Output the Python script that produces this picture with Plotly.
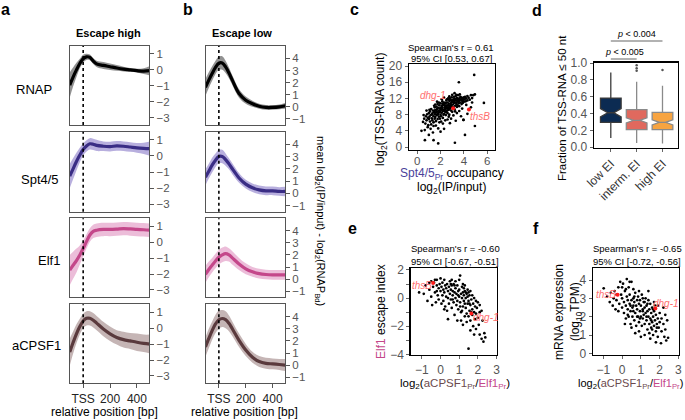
import plotly.graph_objects as go

W, H = 685, 420
FONT = "Liberation Sans, Arial, Helvetica, sans-serif"

# ---------------- data: panels a / b (meta-profiles) ----------------
positions = [-100, -75, -50, -25, 0, 25, 50, 75, 100, 150, 200, 250, 300, 350, 400, 450, 500]

a_rnap_mean = [-0.95, -0.45, 0.0, 0.4, 0.7, 0.82, 0.78, 0.55, 0.38, 0.28, 0.2, 0.12, 0.05, 0.0, -0.05, -0.08, -0.05]
a_rnap_hw = [0.8, 0.6, 0.45, 0.3, 0.25, 0.2, 0.18, 0.18, 0.2, 0.22, 0.2, 0.18, 0.15, 0.12, 0.12, 0.18, 0.3]
a_spt_mean = [-1.25, -0.8, -0.35, 0.05, 0.4, 0.62, 0.75, 0.72, 0.65, 0.6, 0.58, 0.62, 0.6, 0.55, 0.5, 0.47, 0.45]
a_spt_hw = [0.75, 0.65, 0.55, 0.45, 0.38, 0.35, 0.35, 0.35, 0.35, 0.3, 0.3, 0.3, 0.3, 0.3, 0.3, 0.35, 0.45]
a_elf_mean = [-1.75, -1.45, -1.15, -0.8, -0.4, 0.05, 0.45, 0.68, 0.75, 0.8, 0.8, 0.82, 0.85, 0.83, 0.8, 0.78, 0.75]
a_elf_hw = [0.95, 0.85, 0.75, 0.6, 0.5, 0.45, 0.42, 0.42, 0.42, 0.42, 0.42, 0.42, 0.42, 0.42, 0.42, 0.42, 0.42]
a_cpsf_mean = [-1.5, -0.9, -0.35, 0.1, 0.45, 0.62, 0.62, 0.5, 0.32, -0.05, -0.35, -0.58, -0.72, -0.8, -0.88, -0.95, -1.0]
a_cpsf_hw = [0.85, 0.7, 0.6, 0.5, 0.45, 0.45, 0.45, 0.45, 0.45, 0.45, 0.45, 0.45, 0.5, 0.5, 0.55, 0.55, 0.6]

b_rnap_mean = [1.6, 2.2, 2.75, 3.25, 3.6, 3.62, 3.3, 2.8, 2.2, 1.1, 0.55, 0.25, 0.05, -0.05, -0.05, 0.0, 0.1]
b_rnap_hw = [0.7, 0.65, 0.6, 0.55, 0.55, 0.55, 0.5, 0.45, 0.4, 0.35, 0.3, 0.25, 0.2, 0.2, 0.2, 0.2, 0.25]
b_spt_mean = [1.3, 1.8, 2.3, 2.7, 3.0, 3.0, 2.75, 2.4, 2.0, 1.25, 0.75, 0.45, 0.28, 0.2, 0.2, 0.15, 0.15]
b_spt_hw = [0.65, 0.6, 0.6, 0.55, 0.55, 0.55, 0.5, 0.45, 0.45, 0.4, 0.35, 0.35, 0.35, 0.35, 0.35, 0.35, 0.4]
b_elf_mean = [0.4, 0.8, 1.15, 1.5, 1.8, 2.0, 2.1, 2.0, 1.75, 1.25, 0.85, 0.6, 0.45, 0.38, 0.35, 0.35, 0.35]
b_elf_hw = [0.7, 0.65, 0.6, 0.6, 0.6, 0.6, 0.6, 0.55, 0.55, 0.5, 0.45, 0.4, 0.4, 0.4, 0.4, 0.4, 0.4]
b_cpsf_mean = [1.5, 2.2, 2.85, 3.4, 3.75, 3.85, 3.75, 3.45, 3.0, 2.05, 1.25, 0.65, 0.3, 0.15, 0.1, 0.05, 0.0]
b_cpsf_hw = [0.8, 0.8, 0.75, 0.75, 0.75, 0.7, 0.7, 0.65, 0.6, 0.55, 0.5, 0.45, 0.45, 0.45, 0.45, 0.45, 0.5]

factors = ["RNAP", "Spt4/5", "Elf1", "aCPSF1"]
a_ticks = [-3, -2, -1, 0, 1]
b_ticks = [-1, 0, 1, 2, 3, 4]
x_ticks = [0, 200, 400]
x_ticklabels = ["TSS", "200", "400"]

# ---------------- data: panel c ----------------
c_x = [0.5, 0.6, 0.7, 0.75, 0.8, 0.85, 0.9, 0.95, 1.0, 1.0, 0.65, 0.9, 0.55, 0.8,
       1.05, 1.1, 1.1, 1.15, 1.2, 1.2, 1.25, 1.3, 1.3, 1.35, 1.4, 1.4, 1.45, 1.5, 1.5, 1.15, 1.35, 1.45, 1.25, 1.05, 1.4, 1.5,
       1.55, 1.55, 1.6, 1.6, 1.65, 1.65, 1.7, 1.7, 1.75, 1.75, 1.8, 1.8, 1.85, 1.85, 1.9, 1.9, 1.95, 1.95, 2.0, 2.0, 1.6, 1.8, 1.9, 1.7, 1.55, 1.65, 1.85, 1.75, 1.95,
       2.05, 2.05, 2.1, 2.1, 2.15, 2.15, 2.2, 2.2, 2.25, 2.25, 2.3, 2.3, 2.35, 2.35, 2.4, 2.4, 2.45, 2.45, 2.5, 2.5, 2.05, 2.2, 2.3, 2.4, 2.1, 2.3, 2.15, 2.25, 2.35, 2.45, 2.0, 2.2, 2.4, 2.5, 2.1,
       2.55, 2.55, 2.6, 2.6, 2.65, 2.65, 2.7, 2.7, 2.75, 2.75, 2.8, 2.8, 2.85, 2.85, 2.9, 2.9, 2.95, 2.95, 3.0, 3.0, 2.6, 2.7, 2.8, 2.9, 2.55, 2.75, 2.65, 2.85, 2.6, 2.7, 2.9, 2.8,
       3.05, 3.05, 3.1, 3.1, 3.15, 3.15, 3.2, 3.2, 3.25, 3.25, 3.3, 3.3, 3.35, 3.35, 3.4, 3.4, 3.45, 3.45, 3.5, 3.5, 3.1, 3.3, 3.2, 3.4, 3.0, 3.25, 3.35, 3.15, 3.0,
       3.55, 3.55, 3.6, 3.6, 3.65, 3.7, 3.7, 3.75, 3.8, 3.8, 3.85, 3.9, 3.9, 3.95, 4.0, 4.0, 3.6, 3.75, 3.85, 3.57, 3.65, 3.95,
       4.05, 4.1, 4.15, 4.2, 4.3, 4.3, 4.4, 4.5, 4.6, 4.7, 4.8, 4.94, 4.88, 5.71, 4.94, 4.09, 3.97, 4.3, 4.7, 4.2, 4.6,
       0.66, 1.4, 1.8, 0.37, 3.23, 1.0, 2.0]
c_y = [6.2, 7.0, 5.8, 7.6, 6.6, 8.1, 7.2, 5.4, 6.9, 8.4, 4.2, 4.9, 7.9, 9.0,
       7.5, 6.3, 8.8, 7.9, 5.6, 9.4, 7.1, 8.3, 6.6, 9.0, 7.6, 5.2, 8.6, 7.0, 9.8, 4.5, 3.6, 10.2, 8.0, 9.2, 6.1, 8.1,
       9.1, 7.4, 8.5, 6.4, 10.0, 7.9, 9.4, 8.7, 6.9, 10.6, 8.2, 9.7, 7.5, 9.0, 10.3, 8.6, 7.0, 9.5, 8.0, 10.8, 5.3, 4.6, 6.1, 11.2, 10.5, 8.9, 11.0, 8.0, 8.8,
       9.2, 7.6, 10.0, 8.5, 9.6, 11.3, 8.9, 7.2, 10.4, 9.1, 8.2, 11.0, 9.8, 10.6, 8.7, 9.4, 10.9, 7.9, 9.9, 11.5, 6.3, 5.8, 4.5, 6.6, 11.8, 12.2, 10.3, 8.0, 9.0, 9.6, 9.6, 10.7, 10.2, 8.6, 9.3,
       10.3, 9.0, 11.0, 8.4, 9.7, 12.0, 10.6, 9.2, 11.4, 8.0, 10.1, 9.5, 11.7, 10.8, 9.0, 10.4, 11.1, 12.3, 10.0, 8.7, 6.8, 7.5, 5.9, 7.0, 11.8, 12.5, 10.2, 9.8, 9.5, 11.9, 11.5, 12.0,
       11.2, 10.5, 11.8, 9.8, 10.9, 12.4, 11.4, 9.3, 10.2, 11.9, 11.0, 12.6, 10.6, 11.5, 9.9, 12.1, 11.2, 10.3, 11.7, 12.8, 7.8, 6.5, 13.3, 8.4, 12.9, 8.8, 12.9, 11.6, 11.4,
       11.3, 10.8, 12.0, 10.1, 11.6, 12.4, 11.0, 11.8, 10.6, 12.2, 11.4, 12.0, 10.9, 11.7, 12.3, 11.2, 8.9, 7.6, 9.5, 16.0, 13.0, 6.7,
       11.8, 12.4, 11.3, 12.0, 12.6, 11.5, 12.2, 11.7, 12.8, 12.1, 12.8, 13.0, 17.8, 10.9, 5.2, 3.0, 6.7, 8.2, 11.0, 10.4, 9.8,
       1.7, 1.7, 0.9, 4.0, 1.06, 3.0, 3.8]
c_hl_x = [3.08, 4.43]
c_hl_y = [9.55, 9.3]
c_yticks = [0, 4, 8, 12, 16, 20]
c_xticks = [0, 2, 4, 6]

# ---------------- data: panel d (box statistics) ----------------
d_groups = ["low EI", "interm. EI", "high EI"]
d_q1 = [0.296, 0.21, 0.21]
d_median = [0.41, 0.32, 0.296]
d_q3 = [0.585, 0.447, 0.415]
d_lower = [0.11, 0.05, 0.044]
d_upper = [0.89, 0.78, 0.73]
d_notch = [0.05, 0.03, 0.03]
d_fill = ["#0c2b52", "#e0695e", "#f7a441"]
d_edge = ["#3a3a3a", "#8a8a8a", "#8a8a8a"]
d_out_x = ["interm. EI", "interm. EI", "interm. EI", "high EI"]
d_out_y = [0.91, 0.94, 0.975, 0.917]
d_yticks = [0.0, 0.2, 0.4, 0.6, 0.8, 1.0]

# ---------------- data: panel e ----------------
e_x = [-1.15, -0.9, -0.8, -0.7, -0.6, -0.5, -0.5, -0.45, -0.4, -0.35, -0.3, -0.25, -0.2, -0.2, -0.15, -0.1, -0.1, -0.05, 0.0, 0.0,
       0.05, 0.05, 0.1, 0.1, 0.15, 0.15, 0.2, 0.2, 0.25, 0.25, 0.3, 0.3, 0.35, 0.35, 0.4, 0.4, 0.45, 0.45, 0.5, 0.5,
       0.55, 0.55, 0.6, 0.6, 0.65, 0.65, 0.7, 0.7, 0.75, 0.75, 0.8, 0.8, 0.85, 0.85, 0.9, 0.9, 0.95, 0.95, 1.0, 1.0,
       1.05, 1.05, 1.1, 1.1, 1.15, 1.15, 1.2, 1.2, 1.25, 1.25, 1.3, 1.3, 1.35, 1.35, 1.4, 1.4, 1.45, 1.45, 1.5, 1.5, 1.5,
       1.55, 1.55, 1.6, 1.6, 1.65, 1.7, 1.7, 1.75, 1.75, 1.8, 1.8, 1.85, 1.85, 1.9, 1.9, 1.95, 2.0, 2.0, 2.05, 2.1, 2.1,
       2.2, 2.25, 2.3, 2.35, 2.4, 2.2, 1.2, 0.6, 1.0, 1.3, 0.4, 0.9, 1.1, 1.2, 1.4, 1.6, 1.8, 0.2, -0.2, 0.55, 0.8,
       1.45, 1.6, 1.7, 1.9, 2.1, -0.6, -0.3, 0.75, 1.3, 1.35, 1.25, 1.15, 0.95, 0.65, 1.05, 1.55, 1.65, 1.5]
e_y = [0.4, 0.3, 0.9, -0.2, 0.6, 1.2, 0.1, -0.5, 0.8, 1.1, 0.4, -0.3, 0.9, 1.3, 0.2, 0.7, -0.1, 1.0, 0.5, 1.4,
       -0.4, 0.8, 0.2, 1.1, 0.6, -0.2, 1.3, 0.4, 0.9, -0.6, 0.1, 0.7, 1.0, -0.9, 0.5, 0.0, 0.8, -0.4, 1.2, 0.3,
       -0.1, 0.6, 0.9, -0.7, 0.2, 0.5, -0.3, 1.0, 0.4, -1.2, 0.7, 0.0, -0.5, 0.3, 0.9, -0.2, 0.5, -0.8, 0.1, 0.6,
       1.6, -0.3, 0.3, -1.0, 0.0, 0.8, -0.6, 0.4, -0.2, 0.2, -1.3, 0.5, 0.0, -0.7, 0.3, -1.1, -0.4, 0.1, -3.6, -0.2, -1.3,
       0.2, -0.9, -0.5, -1.6, -0.1, -0.8, -1.2, -0.4, -2.0, -1.0, 0.0, -0.6, -1.5, -1.1, -2.2, -0.7, -1.4, -0.3, -1.9, -2.6, -1.0,
       -2.9, -1.6, -3.1, -2.5, -2.8, -0.9, 1.0, 1.3, 1.3, 0.9, -1.5, -1.6, -1.6, -1.9, -1.7, -2.3, -2.6, -0.8, 0.5, 1.0, 1.2,
       0.6, 0.5, 0.2, -0.2, -0.5, 1.1, 1.3, 0.9, -0.4, 0.4, 0.7, -0.9, 0.2, -0.1, -0.6, -0.4, -1.0, 0.4]
e_hl_x = [-0.4, 1.65]
e_hl_y = [1.07, -1.1]
e_xticks = [-1, 0, 1, 2, 3]
e_yticks = [-4, -3, -2, -1, 0, 1, 2]
e_ylabels = ["\u22124", "", "\u22122", "", "0", "", "2"]

# ---------------- data: panel f ----------------
f_x = [-0.98, -0.8, -0.66, -0.6, -0.5, -0.45, -0.4, -0.35, -0.3, -0.2, -0.15, -0.1, -0.05, 0.0, 0.0, 0.05, 0.1, 0.1, 0.15, 0.2,
       0.2, 0.25, 0.25, 0.3, 0.3, 0.35, 0.35, 0.4, 0.4, 0.45, 0.45, 0.5, 0.5, 0.55, 0.55, 0.6, 0.6, 0.65, 0.65, 0.7,
       0.7, 0.75, 0.75, 0.8, 0.8, 0.85, 0.85, 0.9, 0.9, 0.95, 0.95, 1.0, 1.0, 1.05, 1.05, 1.1, 1.1, 1.15, 1.15, 1.2,
       1.2, 1.25, 1.25, 1.3, 1.3, 1.35, 1.35, 1.4, 1.4, 1.45, 1.45, 1.5, 1.5, 1.55, 1.55, 1.6, 1.6, 1.65, 1.65, 1.7,
       1.7, 1.75, 1.8, 1.8, 1.85, 1.9, 1.9, 1.95, 2.0, 2.0, 2.07, 2.1, 2.2, 2.25, 2.3, 2.35, 2.45, 2.4, 2.3, 2.2,
       1.9, 1.7, 1.4, 1.1, 0.6, 0.4, 0.2, -0.3, 0.5, 0.9, 1.2, 1.5, 1.8, 0.15, 0.7, 1.0, 1.3, 1.1, 0.8, 0.6,
       1.6, 1.75, 0.3, 0.9, 1.35, 1.55, 1.45, 2.1, 0.95, 0.65, 1.2, 0.45, 1.65, 1.85, 0.0, -0.2]
f_y = [3.55, 3.1, 2.8, 3.3, 2.6, 3.0, 3.4, 2.4, 2.9, 3.6, 2.7, 3.9, 3.2, 2.5, 3.0, 3.8, 2.8, 2.2, 3.4, 2.6,
       1.9, 4.05, 3.1, 2.4, 2.9, 3.6, 2.0, 2.7, 3.2, 2.3, 1.6, 2.9, 3.9, 2.5, 2.0, 3.0, 2.6, 1.8, 2.8, 3.3,
       2.2, 2.6, 1.5, 2.9, 2.4, 2.0, 3.1, 2.7, 1.7, 2.3, 2.9, 2.0, 2.6, 1.5, 3.2, 2.4, 1.9, 2.8, 2.1, 1.6,
       2.5, 2.2, 3.0, 1.8, 2.6, 1.3, 2.3, 2.0, 2.9, 1.6, 2.4, 1.9, 2.7, 1.4, 2.2, 1.7, 2.5, 1.0, 2.0, 1.5,
       2.3, 1.8, 1.2, 2.1, 1.6, 0.9, 1.9, 1.4, 1.7, 2.2, 0.55, 1.2, 1.6, 0.9, 1.3, 0.7, 0.85, 1.8, 2.1, 2.5,
       2.6, 2.8, 3.4, 3.0, 3.5, 3.9, 3.5, 3.2, 1.4, 1.2, 1.0, 0.8, 0.6, 1.6, 1.1, 0.9, 2.0, 2.3, 2.0, 2.3,
       1.3, 2.6, 2.1, 3.4, 2.7, 1.8, 1.1, 1.9, 1.9, 3.1, 2.8, 2.6, 2.4, 1.4, 3.6, 2.3]
f_hl_x = [-0.24, 1.77]
f_hl_y = [3.2, 2.45]
f_xticks = [-1, 0, 1, 2, 3]
f_yticks = [0, 1, 2, 3, 4]


# ---------------- helpers ----------------
def PX(x):
    return x / W


def PY(y):
    return 1 - y / H


def axname(kind, n):
    return f"{kind}axis" if n == 1 else f"{kind}axis{n}"


def axref(kind, n):
    return kind if n == 1 else f"{kind}{n}"


def minus(v):
    s = f"{v}"
    return s.replace("-", "\u2212")


fig = go.Figure()
layout = {}
annotations = []
shapes = []


def ann(text, x, y, size=11, color="black", angle=0, xanchor="center", yanchor="middle"):
    annotations.append(dict(text=text, x=PX(x), y=PY(y), xref="paper", yref="paper",
                            showarrow=False, textangle=angle, xanchor=xanchor, yanchor=yanchor,
                            font=dict(size=size, color=color, family=FONT)))


line_cols = ["#000000", "#3a2d85", "#c4478a", "#5a3a3d"]
band_cols = ["rgba(110,110,110,0.75)", "rgba(125,110,195,0.55)", "rgba(220,135,185,0.55)", "rgba(150,120,120,0.55)"]

rows_px = [(46, 125), (131.7, 211.7), (218.3, 297.3), (304.3, 383.3)]
cols_px = [(70, 149.3), (205.7, 285)]
profiles = [
    [(a_rnap_mean, a_rnap_hw), (a_spt_mean, a_spt_hw), (a_elf_mean, a_elf_hw), (a_cpsf_mean, a_cpsf_hw)],
    [(b_rnap_mean, b_rnap_hw), (b_spt_mean, b_spt_hw), (b_elf_mean, b_elf_hw), (b_cpsf_mean, b_cpsf_hw)],
]
yranges = [[-3.46, 1.5], [-1.5, 5.02]]
ytick_sets = [a_ticks, b_ticks]

n = 0
for ci, (cx0, cx1) in enumerate(cols_px):
    for ri, (ry0, ry1) in enumerate(rows_px):
        n += 1
        mean, hw = profiles[ci][ri]
        upper = [m + h for m, h in zip(mean, hw)]
        lower = [m - h for m, h in zip(mean, hw)]
        xa, ya = axref("x", n), axref("y", n)
        fig.add_trace(go.Scatter(x=positions, y=upper, xaxis=xa, yaxis=ya, mode="lines",
                                 line=dict(width=0, shape="spline", color=band_cols[ri]),
                                 hoverinfo="skip", showlegend=False))
        fig.add_trace(go.Scatter(x=positions, y=lower, xaxis=xa, yaxis=ya, mode="lines",
                                 line=dict(width=0, shape="spline", color=band_cols[ri]),
                                 fill="tonexty", fillcolor=band_cols[ri],
                                 hoverinfo="skip", showlegend=False))
        fig.add_trace(go.Scatter(x=positions, y=mean, xaxis=xa, yaxis=ya, mode="lines",
                                 line=dict(width=3.2, shape="spline", color=line_cols[ri]),
                                 hoverinfo="skip", showlegend=False))
        last = ri == 3
        layout[axname("x", n)] = dict(
            domain=[PX(cx0), PX(cx1)], range=[-98, 492], anchor=ya, automargin=False,
            showline=True, mirror=True, linecolor="#555", linewidth=1, showgrid=False, zeroline=False,
            tickvals=x_ticks, ticktext=x_ticklabels, showticklabels=last,
            ticks="outside" if last else "", ticklen=4, tickcolor="#555",
            tickfont=dict(size=12, color="#222", family=FONT))
        yt = ytick_sets[ci]
        layout[axname("y", n)] = dict(
            domain=[PY(ry1), PY(ry0)], range=yranges[ci], anchor=xa, side="right", automargin=False,
            showline=True, mirror=True, linecolor="#555", linewidth=1, showgrid=False, zeroline=False,
            tickvals=yt, ticktext=[minus(v) for v in yt], ticks="outside", ticklen=4, tickcolor="#555",
            tickfont=dict(size=11.5, color="#555", family=FONT))
        shapes.append(dict(type="line", xref=xa, yref=f"{ya} domain", x0=0, x1=0, y0=0, y1=1,
                           line=dict(color="black", width=1.6, dash="dot")))

# row labels and headers
for lbl, cxp, cyp in [("RNAP", 34, 89), ("Spt4/5", 39.5, 179), ("Elf1", 49, 260), ("aCPSF1", 36, 345)]:
    ann(lbl, cxp, cyp, size=13)
ann("<b>Escape high</b>", 108.5, 33, size=11)
ann("<b>Escape low</b>", 242, 33, size=11)
ann("relative position [bp]", 104, 412, size=12)
ann("relative position [bp]", 244, 412, size=12)
ann("mean log<sub>2</sub>(IP/input) - log<sub>2</sub>(RNAP<sub>Bd</sub>)", 320, 221, size=11, angle=90)

# panel letters
for lt, lx, ly in [("a", 5, 9), ("b", 188, 9), ("c", 354, 9), ("d", 537, 10), ("e", 352, 229), ("f", 536, 229)]:
    ann(f"<b>{lt}</b>", lx, ly, size=16)


def box_axes(n, xdom, ydom, xr, yr, xt, yt, ytext=None, xtext=None):
    xa, ya = axref("x", n), axref("y", n)
    common = dict(showline=True, mirror=True, linecolor="black", linewidth=1.4, showgrid=False,
                  zeroline=False, ticks="outside", ticklen=3, tickcolor="#666", automargin=False,
                  tickfont=dict(size=12, color="#555", family=FONT))
    layout[axname("x", n)] = dict(domain=[PX(xdom[0]), PX(xdom[1])], range=xr, anchor=ya,
                                  tickvals=xt, ticktext=xtext or [minus(v) for v in xt], **common)
    layout[axname("y", n)] = dict(domain=[PY(ydom[1]), PY(ydom[0])], range=yr, anchor=xa,
                                  tickvals=yt, ticktext=ytext or [minus(v) for v in yt], **common)
    return xa, ya


def scatter_panel(n, xs, ys, hx, hy):
    xa, ya = axref("x", n), axref("y", n)
    fig.add_trace(go.Scatter(x=xs, y=ys, xaxis=xa, yaxis=ya, mode="markers",
                             marker=dict(size=2.7, color="black"), hoverinfo="skip", showlegend=False))
    fig.add_trace(go.Scatter(x=hx, y=hy, xaxis=xa, yaxis=ya, mode="markers",
                             marker=dict(size=4, color="#ff1a1a"), hoverinfo="skip", showlegend=False))


# ---------------- panel c ----------------
box_axes(9, (409, 495), (64, 149.5), [-0.7, 6.66], [-0.6, 20.5], c_xticks, c_yticks)
layout["xaxis9"]["tickfont"] = dict(size=11.5, color="#555", family=FONT)
layout["xaxis9"]["ticklabelstandoff"] = -3
scatter_panel(9, c_x, c_y, c_hl_x, c_hl_y)
ann("Spearman's r = 0.61", 451, 47, size=9.5)
ann("95% CI [0.53, 0.67]", 451, 58.5, size=9.5)
ann("<i>dhg-1</i>", 433, 96, size=10, color="#ff6e6e")
ann("<i>thsB</i>", 480, 116, size=10, color="#ff6e6e")
ann("log<sub>2</sub>(TSS-RNA count)", 381, 110, size=12, angle=-90)
ann("<span style='color:#4b3f9a'>Spt4/5<sub>Pr</sub></span> occupancy", 452, 174, size=12)
ann("log<sub>2</sub>(IP/input)", 452, 188, size=12)

# ---------------- panel d ----------------
xa_d, ya_d = box_axes(10, (594, 678), (62.7, 147.7), [-0.65, 2.6], [-0.005, 1.005], [0, 1, 2], d_yticks,
                      ytext=[f"{v:.1f}" for v in d_yticks])
layout["xaxis10"].update(dict(type="category", categoryorder="array", categoryarray=d_groups,
                              tickvals=d_groups, ticktext=d_groups, tickangle=-45,
                              tickfont=dict(size=12, color="#333", family=FONT)))
for i, g in enumerate(d_groups):
    fig.add_trace(go.Box(x=[g], q1=[d_q1[i]], median=[d_median[i]], q3=[d_q3[i]],
                         lowerfence=[d_lower[i]], upperfence=[d_upper[i]], notchspan=[d_notch[i]],
                         notched=True, notchwidth=0.35, width=0.8, whiskerwidth=0, boxpoints=False,
                         fillcolor=d_fill[i], line=dict(color=d_edge[i], width=1.3),
                         xaxis=xa_d, yaxis=ya_d, hoverinfo="skip", showlegend=False))
fig.add_trace(go.Scatter(x=d_out_x, y=d_out_y, xaxis=xa_d, yaxis=ya_d, mode="markers",
                         marker=dict(size=2.5, color="#555"), hoverinfo="skip", showlegend=False))
shapes.append(dict(type="line", xref=xa_d, yref="paper", x0=0, x1=1, y0=PY(59), y1=PY(59),
                   line=dict(color="#999", width=1.5)))
shapes.append(dict(type="line", xref=xa_d, yref="paper", x0=0, x1=2, y0=PY(41), y1=PY(41),
                   line=dict(color="#999", width=1.5)))
ann("<i>p</i> < 0.005", 624, 52, size=9)
ann("<i>p</i> < 0.004", 636, 34, size=9)
ann("Fraction of TSS-RNA \u2264 50 nt", 562, 108, size=11.5, angle=-90)

# ---------------- panel e ----------------
box_axes(11, (410.7, 496.5), (268.3, 355), [-1.6, 3.0], [-4.05, 2.12], e_xticks, e_yticks, ytext=e_ylabels)
scatter_panel(11, e_x, e_y, e_hl_x, e_hl_y)
ann("Spearman's r = -0.60", 455, 248, size=9.5)
ann("95% CI [-0.67, -0.51]", 455, 261, size=9.5)
ann("<i>thsB</i>", 422, 285, size=10, color="#ff6e6e")
ann("<i>dhg-1</i>", 486, 317, size=10, color="#ff6e6e")
ann("<span style='color:#c4478a'>Elf1</span> escape index", 381, 312, size=12, angle=-90)
ann("log<sub>2</sub>(<span style='color:#6b4a4d'>aCPSF1<sub>Pr</sub></span>/<span style='color:#c4478a'>Elf1<sub>Pr</sub></span>)",
    455, 384, size=11.5)

# ---------------- panel f ----------------
box_axes(12, (593, 679), (268.3, 355), [-1.55, 3.03], [-0.09, 4.64], f_xticks, f_yticks)
scatter_panel(12, f_x, f_y, f_hl_x, f_hl_y)
ann("Spearman's r = -0.65", 637, 248, size=9.5)
ann("95% CI [-0.72, -0.56]", 637, 261, size=9.5)
ann("<i>thsB</i>", 606, 294, size=10, color="#ff6e6e")
ann("<i>dhg-1</i>", 666, 303, size=10, color="#ff6e6e")
ann("mRNA expression", 559, 312, size=12, angle=-90)
ann("(log<sub>10</sub>TPM)", 576, 312, size=12, angle=-90)
ann("log<sub>2</sub>(<span style='color:#6b4a4d'>aCPSF1<sub>Pr</sub></span>/<span style='color:#c4478a'>Elf1<sub>Pr</sub></span>)",
    630, 384, size=11)

fig.update_layout(
    width=W, height=H, margin=dict(l=0, r=0, t=0, b=0, autoexpand=False),
    paper_bgcolor="white", plot_bgcolor="white", showlegend=False,
    font=dict(family=FONT, size=11, color="black"),
    annotations=annotations, shapes=shapes, **layout)

fig.write_html("out.html", config={"displayModeBar": False, "staticPlot": True},
               post_script="document.body.style.margin='0';document.body.style.overflow='hidden';")
